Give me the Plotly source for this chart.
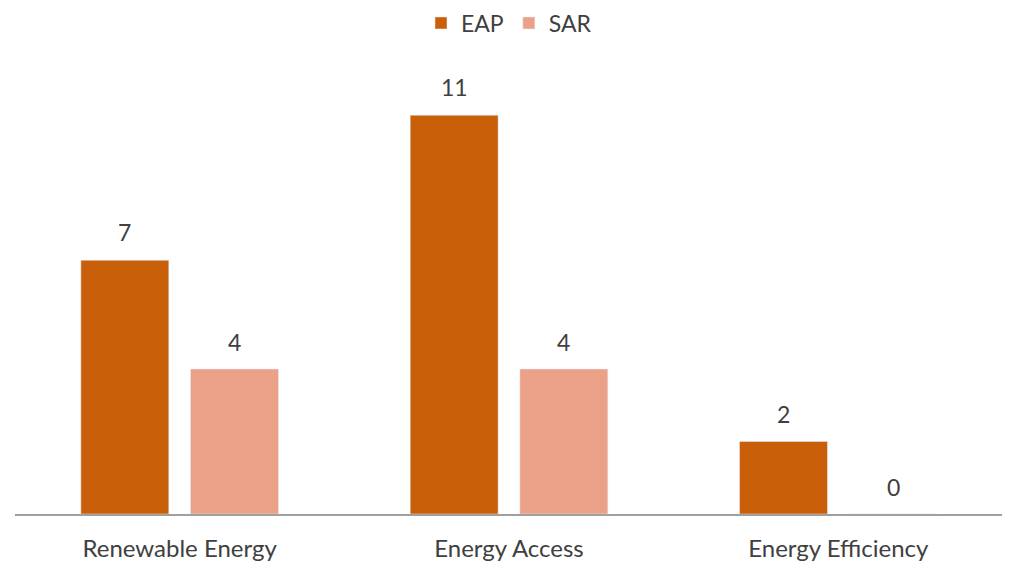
import plotly.graph_objects as go

categories = ["Renewable Energy", "Energy Access", "Energy Efficiency"]
eap = [7, 11, 2]
sar = [4, 4, 0]

EAP_COLOR = "#C95F08"
SAR_COLOR = "#EBA088"
TEXT = "#404040"
FONT = "Lato"
FS = 23

W = 0.267
fig = go.Figure()
fig.add_trace(go.Bar(name="EAP", x=categories, y=eap, marker_color=EAP_COLOR,
                     width=W, offset=-0.3, hoverinfo="x+y"))
fig.add_trace(go.Bar(name="SAR", x=categories, y=sar, marker_color=SAR_COLOR,
                     width=W, offset=0.033, hoverinfo="x+y"))

ann = []
for i, (a, b) in enumerate(zip(eap, sar)):
    ann.append(dict(x=i - 0.3 + W / 2, y=a, text=str(a), showarrow=False,
                    yshift=28, xref="x", yref="y",
                    font=dict(size=FS, color=TEXT, family=FONT)))
    ann.append(dict(x=i + 0.033 + W / 2, y=b, text=str(b), showarrow=False,
                    yshift=27, xref="x", yref="y",
                    font=dict(size=FS, color=TEXT, family=FONT)))

fig.update_layout(
    width=1010, height=569,
    margin=dict(l=7, r=15, t=71, b=63, autoexpand=False),
    paper_bgcolor="white", plot_bgcolor="white",
    font=dict(family=FONT, size=FS, color=TEXT),
    barmode="group",
    annotations=ann,
    showlegend=True,
    legend=dict(orientation="h", x=501 / 1010, xanchor="center", xref="container",
                y=1 - 15 / 569, yanchor="middle", yref="container",
                font=dict(size=FS, color=TEXT, family=FONT),
                traceorder="normal"),
    xaxis=dict(type="category", showline=True, linecolor="#A0A0A0", linewidth=2,
               ticks="", showgrid=False, tickfont=dict(size=24, color=TEXT),
               ticklabelstandoff=12, automargin=False,
               range=[-0.5, 2.5]),
    yaxis=dict(range=[0, 12], showgrid=False, showticklabels=False, zeroline=False,
               showline=False, ticks="", automargin=False),
)

fig.write_html("out.html")
